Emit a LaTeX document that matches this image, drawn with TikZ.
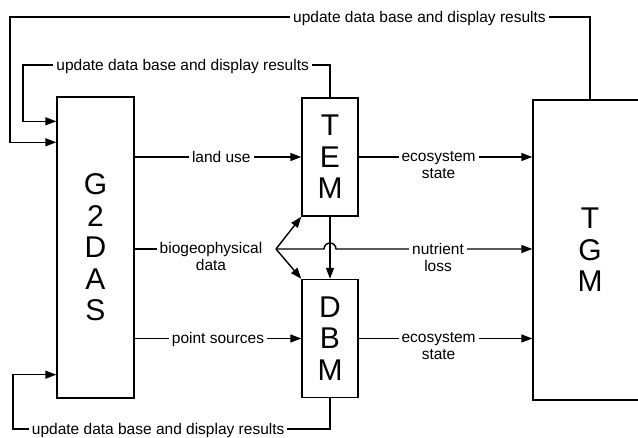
\documentclass[tikz,border=0pt]{standalone}
\usepackage{fontspec}
\setmainfont{Liberation Sans}
\usetikzlibrary{arrows.meta}

\tikzset{
  model/.style={draw, line width=1.4pt, align=center,
    font=\fontsize{30}{31.5}\selectfont},
  lbl/.style={fill=white, inner sep=3pt, align=center, anchor=north,
    yshift=9.5pt, font=\fontsize{15.5}{17}\selectfont},
  flow/.style={line width=1.4pt, -{Triangle[length=11pt, width=8pt]}},
  wire/.style={line width=1.4pt}
}

\begin{document}
\begin{tikzpicture}[x=1pt, y=-1pt]
        \useasboundingbox (0,0) rectangle (638,438);

        % Models
        \node[model, minimum width=77pt, minimum height=301pt] (gdas) at (95.5,247.5) {G\\2\\D\\A\\S};
        \node[model, minimum width=56pt, minimum height=118pt] (tem) at (330,157) {T\\E\\M};
        \node[model, minimum width=56pt, minimum height=118pt] (dbm) at (330,338.5) {D\\B\\M};
        \node[model, minimum width=114pt, minimum height=300pt] (tgm) at (590,250) {T\\G\\M};

        % Flows between the models
        \draw[flow] (gdas.east |- tem.west) -- node[lbl, pos=0.52] {land use} (tem.west);
        \draw[flow] (gdas.east |- dbm.west) -- node[lbl, pos=0.5] {point sources} (dbm.west);
        \draw[flow] (tem.east) -- node[lbl, pos=0.46] {ecosystem\\state} (tgm.west |- tem.east);
        \draw[flow] (dbm.east) -- node[lbl, pos=0.46] {ecosystem\\state} (tgm.west |- dbm.east);

        % Biogeophysical data fork
        \coordinate (fork) at (276,249);
        \node[lbl] (bio) at (211,249) {biogeophysical\\data};
        \draw[wire] (gdas.east |- fork) -- (bio.west |- fork);
        \draw[flow] (fork) -- (tem.south west);
        \draw[flow] (fork) -- (dbm.north west);
        \draw[flow] (fork) -- ([xshift=-6pt]tem.south |- fork)
          arc[start angle=180, end angle=0, radius=6pt]
          -- node[lbl, pos=0.52] {nutrient\\loss} (tgm.west |- fork);
        \draw[flow] (tem.south) -- (dbm.north);

        % Feedback loops
        \coordinate (outA) at (10,17);
        \coordinate (outB) at (23,65);
        \coordinate (outC) at (13,429);
        \draw[flow] (tgm.north) |- node[lbl, pos=0.647] {update data base and display results} (outA)
          |- ([yshift=-46pt]gdas.north west);
        \draw[flow] (tem.north) |- node[lbl, pos=0.74] {update data base and display results} (outB)
          |- ([yshift=-25pt]gdas.north west);
        \draw[flow] (dbm.south) |- node[lbl, pos=0.771] {update data base and display results} (outC)
          |- ([yshift=24pt]gdas.south west);
      \end{tikzpicture}
\end{document}
